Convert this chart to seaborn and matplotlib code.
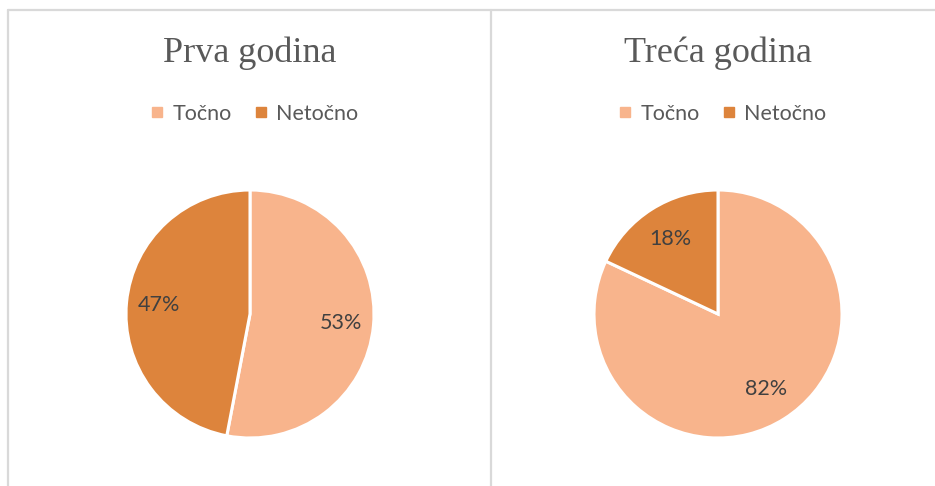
import matplotlib
matplotlib.use("Agg")
import matplotlib.pyplot as plt
import seaborn as sns
from matplotlib.lines import Line2D

categories = ["Točno", "Netočno"]
titles = ["Prva godina", "Treća godina"]
values_prva = [53, 47]
values_treca = [82, 18]
colors = ["#F8B48C", "#DD843C"]

sns.set_theme(style="white")
plt.rcParams["font.family"] = ["Lato", "DejaVu Sans"]

W, H = 935, 486
fig = plt.figure(figsize=(W / 100, H / 100), dpi=100)
fig.patch.set_facecolor("white")

# panel borders
bc = "#D9D9D9"
fig.add_artist(Line2D([8 / W, 1.0], [1 - 10 / H, 1 - 10 / H], color=bc, lw=1.6, transform=fig.transFigure))
fig.add_artist(Line2D([8 / W, 8 / W], [0, 1 - 10 / H], color=bc, lw=1.6, transform=fig.transFigure))
fig.add_artist(Line2D([491 / W, 491 / W], [0, 1 - 10 / H], color=bc, lw=1.6, transform=fig.transFigure))

panels = [(250, values_prva, titles[0], 0.74), (718, values_treca, titles[1], 0.72)]
r = 124
cy = 314
for cx, vals, title, pd in panels:
    ax = fig.add_axes([(cx - r) / W, (H - cy - r) / H, 2 * r / W, 2 * r / H])
    wedges, texts, autotexts = ax.pie(
        vals, colors=colors, startangle=90, counterclock=False,
        autopct=lambda p: f"{p:.0f}%", pctdistance=pd,
        wedgeprops=dict(edgecolor="white", linewidth=2.2),
        textprops=dict(color="#404040", fontsize=15.5),
    )
    ax.set_xlim(-1, 1)
    ax.set_ylim(-1, 1)
    ax.set_aspect("equal")
    ax.axis("off")
    fig.text(cx / W, 1 - 53 / H, title, ha="center", va="center",
             fontsize=26, color="#595959", family=["Liberation Serif", "DejaVu Serif"])
    handles = [Line2D([0], [0], marker="s", color="none", markerfacecolor=c,
                      markeredgecolor=c, markersize=7.5) for c in colors]
    fig.legend(handles, categories, loc="center", bbox_to_anchor=((cx + 4) / W, 1 - 114 / H),
               ncol=2, frameon=False, fontsize=15.5, labelcolor="#595959",
               handlelength=0.7, handletextpad=0.35, columnspacing=1.0)

fig.savefig("out.png", dpi=100, facecolor="white")
